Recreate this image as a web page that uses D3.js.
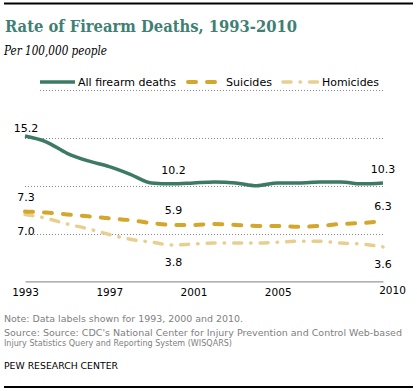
<!DOCTYPE html>
<html>
<head>
<meta charset="utf-8">
<script src="https://cdn.jsdelivr.net/npm/d3@7"></script>
<style>
  body { margin: 0; background: #fff; }
  svg { display: block; }
  text { font-family: "DejaVu Sans", Verdana, sans-serif; }
</style>
</head>
<body>
<div id="chart"></div>
<script>
// rates per 100,000 people
var years = [1993, 1994, 1995, 1996, 1997, 1998, 1999, 2000, 2001,
             2002, 2003, 2004, 2005, 2006, 2007, 2008, 2009, 2010];
var allDeaths = [15.2, 14.6, 13.4, 12.6, 12.0, 11.2, 10.3, 10.2, 10.3,
                 10.4, 10.3, 10.0, 10.3, 10.3, 10.4, 10.4, 10.2, 10.3];
var suicides = [7.3, 7.2, 7.0, 6.8, 6.6, 6.4, 6.1, 5.9, 5.9,
                6.0, 5.9, 5.8, 5.8, 5.7, 5.8, 6.0, 6.1, 6.3];
var homicides = [7.0, 6.6, 6.0, 5.5, 4.9, 4.4, 4.1, 3.8, 3.9,
                 4.0, 4.0, 4.0, 4.1, 4.2, 4.2, 4.0, 3.9, 3.6];
var seriesNames = ["All firearm deaths", "Suicides", "Homicides"];
var labelYears = [1993, 2000, 2010];
var tickYears = [1993, 1997, 2001, 2005, 2010];
var gridValues = [5, 10, 15];

var W = 417, H = 391;
var svg = d3.select("#chart").append("svg")
  .attr("width", W)
  .attr("height", H);

var x = d3.scaleLinear().domain([1993, 2010]).range([25, 383]);
var y = d3.scaleLinear().domain([0, 15]).range([281.3, 138]);

var series = [
  { name: seriesNames[0], values: allDeaths, color: "#3d7a66", width: 3.5, dash: null, lab: -10 },
  { name: seriesNames[1], values: suicides, color: "#d3a62c", width: 4, dash: "8,11", lab: -11 },
  { name: seriesNames[2], values: homicides, color: "#e7d08f", width: 3.5, dash: "8,9,0.5,9", lab: 21 }
];

// frame rules
svg.append("line").attr("x1", 4).attr("x2", 413).attr("y1", 3.5).attr("y2", 3.5)
  .style("stroke", "#000").style("stroke-width", 2);
svg.append("line").attr("x1", 4).attr("x2", 413).attr("y1", 387).attr("y2", 387)
  .style("stroke", "#000").style("stroke-width", 2);

// title + subtitle
svg.append("text")
  .attr("x", 5).attr("y", 32)
  .attr("textLength", 292).attr("lengthAdjust", "spacingAndGlyphs")
  .style("font-family", "Georgia, 'DejaVu Serif', serif")
  .style("font-weight", "bold").style("font-size", "16px")
  .style("fill", "#3f7f74")
  .text("Rate of Firearm Deaths, 1993-2010");

svg.append("text")
  .attr("x", 4).attr("y", 55)
  .attr("textLength", 103).attr("lengthAdjust", "spacingAndGlyphs")
  .style("font-family", "Georgia, 'DejaVu Serif', serif")
  .style("font-style", "italic").style("font-size", "12px")
  .style("fill", "#000")
  .text("Per 100,000 people");

// legend
var legendPos = [
  { x1: 40, x2: 75, tx: 78, tw: 98 },
  { x1: 188, x2: 219, tx: 226, tw: 46 },
  { x1: 283, x2: 318, tx: 322, tw: 57 }
];
var legend = svg.append("g").attr("class", "legend");
series.forEach(function(s, i) {
  var p = legendPos[i];
  legend.append("line")
    .attr("x1", p.x1).attr("x2", p.x2).attr("y1", 82).attr("y2", 82)
    .style("stroke", s.color).style("stroke-width", s.width)
    .style("stroke-linecap", s.dash ? "round" : "butt")
    .style("stroke-dasharray", s.dash);
  legend.append("text")
    .attr("x", p.tx).attr("y", 86)
    .attr("textLength", p.tw).attr("lengthAdjust", "spacingAndGlyphs")
    .style("font-size", "11px").style("fill", "#000")
    .text(s.name);
});
svg.append("line").attr("x1", 40).attr("x2", 383).attr("y1", 90.5).attr("y2", 90.5)
  .style("stroke", "#888").style("stroke-dasharray", "1,2");

// gridlines
svg.append("g").selectAll("line")
  .data(gridValues)
  .enter().append("line")
  .attr("x1", x(1993)).attr("x2", x(2010))
  .attr("y1", function(d) { return Math.round(y(d)) + 0.5; })
  .attr("y2", function(d) { return Math.round(y(d)) + 0.5; })
  .style("stroke", "#888").style("stroke-dasharray", "1,2");

// x axis
var xAxis = svg.append("g")
  .attr("transform", "translate(0," + y(0) + ")")
  .call(d3.axisBottom(x).tickValues(tickYears).tickFormat(d3.format("d"))
    .tickSize(0).tickSizeOuter(0).tickPadding(7));
xAxis.select(".domain").style("stroke", "#999").style("stroke-width", 1.2);
xAxis.selectAll("text")
  .style("font-family", "'DejaVu Sans', Verdana, sans-serif")
  .style("font-size", "10.5px").style("fill", "#000")
  .attr("dy", "0.71em")
  .filter(function(d) { return d === 2010; })
  .attr("x", 9).attr("y", 5);

// lines
var line = d3.line()
  .x(function(d, i) { return x(years[i]); })
  .y(function(d) { return y(d); })
  .curve(d3.curveMonotoneX);

series.slice().reverse().forEach(function(s) {
  svg.append("path")
    .datum(s.values)
    .attr("d", line)
    .style("fill", "none")
    .style("stroke", s.color)
    .style("stroke-width", s.width)
    .style("stroke-linecap", s.dash ? "round" : "butt")
    .style("stroke-linejoin", "round")
    .style("stroke-dasharray", s.dash);
});

// data labels
series.forEach(function(s) {
  svg.append("g").selectAll("text")
    .data(labelYears)
    .enter().append("text")
    .attr("x", function(d) { return x(d) + (d === 2010 ? 0 : 1); })
    .attr("y", function(d) {
      var v = s.values[years.indexOf(d)];
      return Math.max(y(v) + s.lab, 132);
    })
    .attr("text-anchor", "middle")
    .style("font-size", "11px").style("fill", "#000")
    .text(function(d) { return d3.format(".1f")(s.values[years.indexOf(d)]); });
});

// notes
var foot = svg.append("g")
  .style("font-family", "Tahoma, 'DejaVu Sans Condensed', 'DejaVu Sans', sans-serif")
  .style("font-size", "9px");
foot.append("text").attr("x", 4).attr("y", 322)
  .attr("textLength", 239).attr("lengthAdjust", "spacingAndGlyphs")
  .style("font-size", "9.5px")
  .style("fill", "#808080")
  .text("Note: Data labels shown for 1993, 2000 and 2010.");
foot.append("text").attr("x", 4).attr("y", 336)
  .attr("textLength", 398).attr("lengthAdjust", "spacingAndGlyphs")
  .style("fill", "#808080")
  .text("Source: Source: CDC's  National Center for Injury  Prevention and Control Web-based");
foot.append("text").attr("x", 4).attr("y", 346)
  .attr("textLength", 228).attr("lengthAdjust", "spacingAndGlyphs")
  .style("fill", "#808080")
  .text("Injury  Statistics Query and Reporting System (WISQARS)");
foot.append("text").attr("x", 4).attr("y", 369)
  .attr("textLength", 114).attr("lengthAdjust", "spacingAndGlyphs")
  .style("font-size", "9.5px")
  .style("fill", "#000")
  .text("PEW RESEARCH  CENTER");
</script>
</body>
</html>
